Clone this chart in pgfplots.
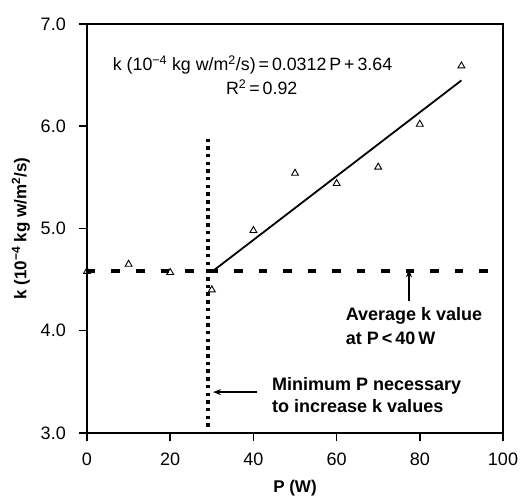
\documentclass[border=0pt]{standalone}
\usepackage{pgfplots}
\pgfplotsset{compat=1.18}
\usetikzlibrary{arrows.meta}
\usepackage{fontspec}
\setmainfont{Liberation Sans}
\begin{document}
\begin{tikzpicture}
\begin{axis}[
  scale only axis, width=416pt, height=409pt,
  xmin=0, xmax=100, ymin=3, ymax=7,
  xtick={0,20,40,60,80,100}, ytick={3,4,5,6,7},
  yticklabel style={/pgf/number format/fixed,/pgf/number format/fixed zerofill,/pgf/number format/precision=1},
  /pgf/number format/assume math mode=true,
  line width=1.8pt,
  tick align=outside, xtick pos=bottom, ytick pos=left, major tick length=8pt,
  every tick/.style={line width=1.5pt, black},
  ticklabel style={font=\fontsize{18}{20}\selectfont},
  xticklabel style={yshift=-8pt},
  yticklabel style={xshift=-9pt},
  xlabel={\textbf{P (W)}},
  ylabel={\textbf{k (10\textsuperscript{−4} kg w/m\textsuperscript{2}/s)}},
  label style={font=\fontsize{17}{20}\selectfont},
  xlabel style={at={(axis description cs:0.5,0)}, anchor=center, yshift=-55pt},
  ylabel style={at={(axis description cs:0,0.5)}, anchor=center, rotate=0, yshift=66pt},
  clip=false,
]
% regression line
\addplot[line width=1.8pt, black] coordinates {(30,4.576) (90,6.448)};
% average dashed line
\addplot[line width=4pt, black, dash pattern=on 8.5pt off 16pt] coordinates {(0,4.58) (98,4.58)};
% minimum P dotted line
\addplot[line width=4pt, black, dash pattern=on 3.5pt off 4.2pt] coordinates {(29.2,3.06) (29.2,5.88)};
% data
\addplot[only marks, mark=triangle, mark size=4pt, mark options={line width=0.9pt, black}] coordinates {
 (0,4.58) (10,4.65) (20,4.57) (30,4.40) (40,4.98) (50,5.54) (60,5.44) (70,5.60) (80,6.02) (90,6.59)};

\node[font=\fontsize{17.8}{20}\selectfont] at (axis cs:39.8,6.6)
  {k (10\textsuperscript{−4} kg w/m\textsuperscript{2}/s)\,=\,0.0312\,P\,+\,3.64};
\node[font=\fontsize{17.8}{20}\selectfont] at (axis cs:42,6.38) {R\textsuperscript{2}\,=\,0.92};

\node[font=\bfseries\fontsize{18}{24}\selectfont, align=left, anchor=west] at (axis cs:61.2,4.05)
  {Average k value\\at P\,<\,40\,W};
\node[font=\bfseries\fontsize{18}{22}\selectfont, align=left, anchor=west] at (axis cs:43.5,3.37)
  {Minimum P necessary\\to increase k values};

\draw[line width=1.2pt, -{Stealth[length=8pt,width=6pt]}] (axis cs:77.4,4.29) -- (axis cs:77.4,4.60);
\draw[line width=1.2pt, -{Stealth[length=8pt,width=6pt]}] (axis cs:40.9,3.40) -- (axis cs:30.3,3.40);

% page margins as in the reference
\path (rel axis cs:0,0) ++(-87pt,-67pt);
\path (rel axis cs:1,1) ++(24pt,24pt);
\end{axis}
\end{tikzpicture}
\end{document}
